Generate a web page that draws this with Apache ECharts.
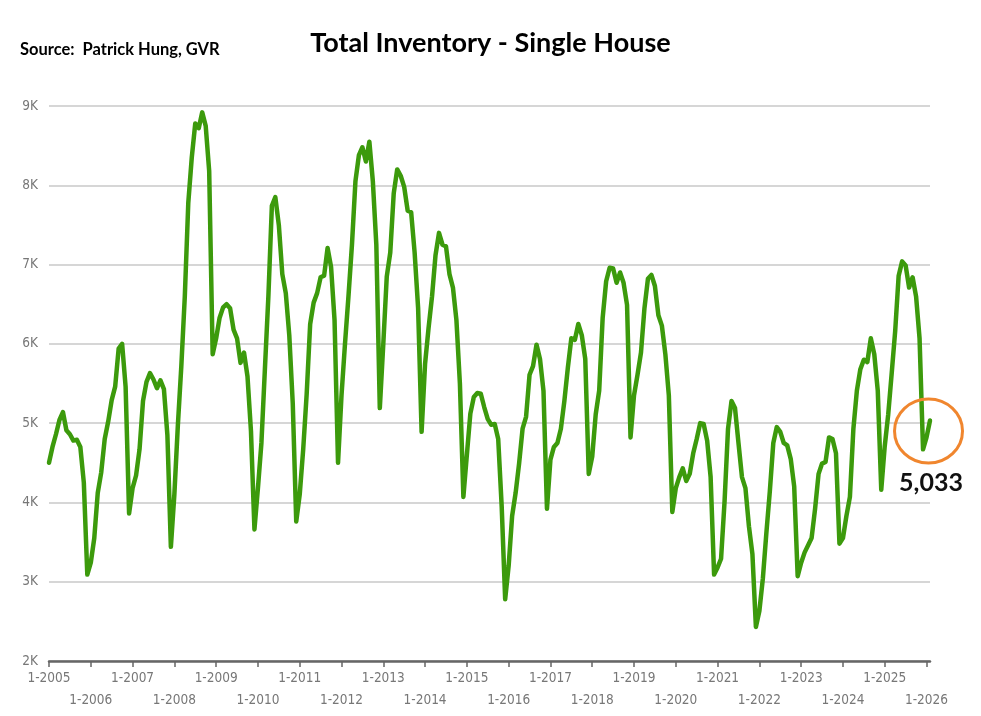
<!DOCTYPE html>
<html>
<head>
<meta charset="utf-8">
<script src="https://cdn.jsdelivr.net/npm/echarts@6/dist/echarts.min.js"></script>
<style>
html,body{margin:0;padding:0;background:#fff;}
#chart{width:981px;height:716px;}
</style>
</head>
<body>
<div id="chart"></div>
<script>
// Monthly total inventory (single house), Jan 2005 .. Feb 2026
const y2005 = [4500,4700,4860,5040,5140,4910,4860,4780,4790,4700,4250,3090];
const y2006 = [3240,3550,4120,4380,4800,5020,5290,5460,5940,6000,5460,3860];
const y2007 = [4180,4340,4670,5280,5520,5630,5550,5440,5540,5430,4850,3440];
const y2008 = [4100,4970,5720,6600,7780,8350,8780,8720,8920,8750,8180,5870];
const y2009 = [6070,6330,6460,6500,6450,6180,6070,5760,5890,5590,4900,3660];
const y2010 = [4180,4750,5680,6600,7740,7850,7500,6880,6640,6110,5250,3760];
const y2011 = [4100,4670,5370,6250,6520,6640,6840,6860,7210,6970,6300,4500];
const y2012 = [5350,6000,6600,7250,8050,8380,8480,8300,8550,8050,7250,5190];
const y2013 = [6000,6850,7150,7900,8200,8120,7980,7680,7660,7150,6450,4890];
const y2014 = [5750,6200,6600,7120,7400,7250,7230,6880,6710,6300,5500,4070];
const y2015 = [4600,5120,5330,5380,5370,5200,5050,4980,4990,4800,3950,2780];
const y2016 = [3200,3830,4120,4490,4930,5080,5610,5720,5990,5810,5410,3920];
const y2017 = [4540,4700,4750,4930,5280,5700,6070,6050,6250,6110,5810,4360];
const y2018 = [4580,5110,5410,6330,6790,6960,6950,6770,6900,6770,6490,4820];
const y2019 = [5350,5610,5890,6450,6820,6870,6730,6360,6230,5870,5350,3880];
const y2020 = [4180,4320,4430,4270,4360,4620,4800,5000,4990,4780,4320,3090];
const y2021 = [3180,3290,4010,4930,5280,5190,4750,4320,4180,3700,3350,2430];
const y2022 = [2630,3040,3610,4140,4750,4950,4890,4750,4720,4550,4200,3070];
const y2023 = [3240,3370,3460,3550,3920,4360,4490,4510,4820,4800,4620,3480];
const y2024 = [3550,3830,4070,4930,5410,5680,5800,5770,6070,5870,5410,4160];
const y2025 = [4710,5110,5630,6160,6860,7040,6990,6710,6840,6600,6070,4670];
const y2026 = [4820,5033];

const startYear = 2005;
const yearly = [y2005,y2006,y2007,y2008,y2009,y2010,y2011,y2012,y2013,y2014,y2015,
                y2016,y2017,y2018,y2019,y2020,y2021,y2022,y2023,y2024,y2025,y2026];

const yTicks = {min: 2000, max: 9000, step: 1000};
const titleText = 'Total Inventory - Single House';
const sourceText = 'Source:  Patrick Hung, GVR';

// build categories "M-YYYY" and values
const categories = [];
const inventory = [];
yearly.forEach((arr, yi) => {
  arr.forEach((v, mi) => {
    categories.push((mi + 1) + '-' + (startYear + yi));
    inventory.push(v);
  });
});
const lastIdx = inventory.length - 1;
const lastVal = inventory[lastIdx];

const chart = echarts.init(document.getElementById('chart'), null, {renderer: 'canvas'});

const labelFont = '"DejaVu Sans Condensed", "Liberation Sans Narrow", sans-serif';
const isJan = (i) => i % 12 === 0;
const rowA = (i) => isJan(i) && Math.floor(i / 12) % 2 === 0;
const rowB = (i) => isJan(i) && Math.floor(i / 12) % 2 === 1;

const baseX = {
  type: 'category',
  data: categories,
  boundaryGap: false,
  position: 'bottom',
  gridIndex: 0,
  splitLine: {show: false}
};

chart.setOption({
  animation: false,
  backgroundColor: '#ffffff',
  title: [
    {
      text: titleText,
      left: 'center',
      top: 25,
      textStyle: {fontFamily: 'Lato, "Open Sans", sans-serif', fontWeight: 'bold', fontSize: 27, color: '#000'}
    },
    {
      text: sourceText,
      left: 15,
      top: 36,
      textStyle: {fontFamily: 'Lato, "Open Sans", sans-serif', fontWeight: 'bold', fontSize: 16.5, color: '#000'}
    }
  ],
  grid: {left: 49, right: 51, top: 106, bottom: 55, containLabel: false},
  xAxis: [
    Object.assign({}, baseX, {
      axisLine: {show: true, lineStyle: {color: '#666', width: 2.5}},
      axisTick: {show: true, interval: isJan, length: 6, lineStyle: {color: '#666', width: 1.5}},
      axisLabel: {
        interval: rowA,
        showMinLabel: true,
        showMaxLabel: true,
        hideOverlap: false,
        fontFamily: labelFont,
        fontSize: 13.5,
        color: '#777777',
        margin: 10
      }
    }),
    Object.assign({}, baseX, {
      axisLine: {show: false},
      axisTick: {show: false},
      axisLabel: {
        interval: rowB,
        showMinLabel: true,
        showMaxLabel: true,
        hideOverlap: false,
        fontFamily: labelFont,
        fontSize: 13.5,
        color: '#777777',
        margin: 32
      }
    })
  ],
  yAxis: {
    type: 'value',
    min: yTicks.min,
    max: yTicks.max,
    interval: yTicks.step,
    axisLine: {show: false},
    axisTick: {show: false},
    axisLabel: {
      formatter: (v) => (v / 1000) + 'K',
      fontFamily: labelFont,
      fontSize: 13.5,
      color: '#777777',
      margin: 11
    },
    splitLine: {show: true, lineStyle: {color: '#c8c8c8', width: 1.5}}
  },
  series: [{
    type: 'line',
    xAxisIndex: 0,
    data: inventory,
    showSymbol: false,
    symbol: 'none',
    smooth: false,
    lineStyle: {color: '#3c9a0c', width: 4.5, join: 'round', cap: 'round'},
    itemStyle: {color: '#3c9a0c'},
    emphasis: {disabled: true}
  }]
});

// annotations positioned through the axes: orange ellipse and last-value label
const c = chart.convertToPixel({gridIndex: 0}, [lastIdx - 1, 4900]);
const p = chart.convertToPixel({gridIndex: 0}, [lastIdx, lastVal]);
chart.setOption({
  graphic: [
    {
      type: 'ellipse',
      shape: {cx: c[0] + 2, cy: c[1], rx: 34, ry: 32},
      style: {fill: 'none', stroke: '#f0862e', lineWidth: 3},
      z: 100
    },
    {
      type: 'text',
      x: p[0] + 1,
      y: p[1] + 62,
      style: {
        text: lastVal.toLocaleString('en-US'),
        fontFamily: 'Lato, "Open Sans", sans-serif',
        fontWeight: 'bold',
        fontSize: 25,
        fill: '#111',
        align: 'center',
        verticalAlign: 'middle'
      },
      z: 100
    }
  ]
});
</script>
</body>
</html>
